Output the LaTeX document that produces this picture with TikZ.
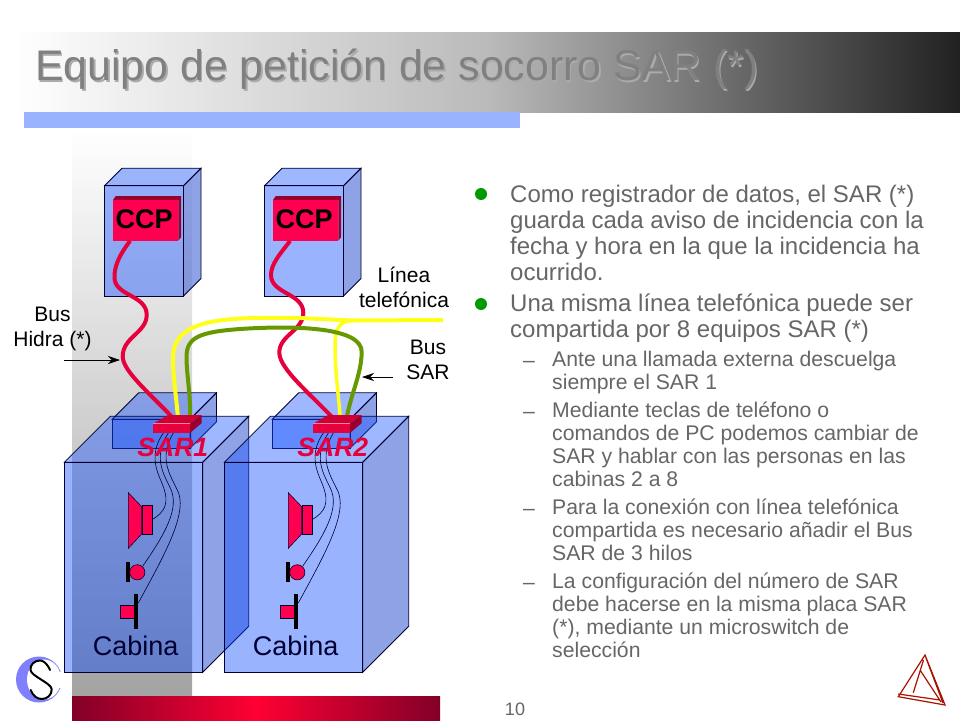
\documentclass[tikz,border=0pt]{standalone}
\usepackage{fontspec}
\setmainfont{Liberation Sans}
\usetikzlibrary{arrows.meta}
\definecolor{barblue}{HTML}{99B3FF}
\definecolor{faceblue}{HTML}{0241FF}
\definecolor{topblue}{HTML}{114DFF}
\definecolor{sideblue}{HTML}{1F47CD}
\definecolor{edgeblue}{HTML}{000033}
\definecolor{devred}{HTML}{FF0050}
\definecolor{barred}{HTML}{FF0033}
\definecolor{darkred}{HTML}{99002E}
\definecolor{toprred}{HTML}{CC0033}
\definecolor{wirered}{HTML}{E6003C}
\definecolor{wiregreen}{HTML}{669900}
\definecolor{wireyellow}{HTML}{FFFF19}
\definecolor{bodygray}{HTML}{666666}
\definecolor{bulletgreen}{HTML}{009900}
\tikzset{
	frontface/.style={draw=edgeblue,line width=.8pt,fill=faceblue,fill opacity=.4},
	topface/.style={draw=edgeblue,line width=.8pt,fill=topblue,fill opacity=.4},
	sideface/.style={draw=edgeblue,line width=.8pt,fill=sideblue,fill opacity=.5},
	ccpbox/.style={fill=devred,inner sep=0,minimum width=65.3pt,minimum height=40.7pt,font=\fontsize{27}{27}\selectfont\bfseries},
	sarbox/.style={fill=wirered,inner sep=0,minimum width=36.7pt,minimum height=8.7pt},
	redwire/.style={draw=wirered,line width=4pt},
	yellowwire/.style={draw=wireyellow,line width=4pt},
	greenwire/.style={draw=wiregreen,line width=4pt},
	thinwire/.style={draw=edgeblue,line width=.6pt},
	smalllabel/.style={align=center,inner sep=0,font=\fontsize{21}{25}\selectfont},
	itemtext/.style={anchor=north west,align=left,inner sep=0,text=bodygray,execute at begin node=\strut,font=\fontsize{24}{26}\selectfont},
	subtext/.style={anchor=north west,align=left,inner sep=0,text=bodygray,execute at begin node=\strut,font=\fontsize{21.2}{23}\selectfont},
	bullet/.style={circle,fill=bulletgreen,inner sep=0,minimum size=12pt},
}
\newcommand\BoxPrism[5]{
	\draw[topface] (#1,#2)--({#1+#5},{#2-#5})--({#1+#3+#5},{#2-#5})--({#1+#3},#2)--cycle;
	\draw[sideface] ({#1+#3},#2)--({#1+#3+#5},{#2-#5})--({#1+#3+#5},{#2+#4-#5})--({#1+#3},{#2+#4})--cycle;
	\draw[frontface] (#1,#2) rectangle ({#1+#3},{#2+#4});
}
\newcommand\CcpUnit[3]{
	\BoxPrism{#1}{185.7}{79}{110.3}{17.5}
	\begin{scope}[xshift=#1pt]
	\fill[darkred] (8.5,200)--(11.2,196)--(76.5,196)--(76.5,237.3)--(73.8,240.7)--(73.8,200)--cycle;
	\node[ccpbox] (#2) at (41.15,220.3) {\raisebox{3pt}{#3}\kern3pt};
	\end{scope}
}
\newcommand\CabinaUnit[2]{
	\BoxPrism{#1+47.9}{419.3}{77.7}{29}{26.5}
	\BoxPrism{#1}{462.3}{138.4}{210}{46}
	\begin{scope}[xshift=#1pt]
	\draw[edgeblue,fill=devred,line width=.6pt] (64,492.7)--(77.4,506.7)--(77.4,534)--(64,548.3)--cycle;
	\draw[edgeblue,fill=devred,line width=.6pt] (78,505.3) rectangle (88.4,534.3);
	\fill[black] (62,561.7) rectangle (65.4,581.7);
	\draw[edgeblue,fill=devred,line width=.6pt] (73,572.3) circle (7.6);
	\draw[edgeblue,fill=devred,line width=.6pt] (56,605.7) rectangle (70.7,618.7);
	\fill[black] (69.7,594) rectangle (73.7,629.3);
	\node[font=\fontsize{27}{27}\selectfont,text=edgeblue,inner sep=0] (#2) at (71.3,646) {Cabina};
	\end{scope}
}
\newcommand\SarUnit[3]{
	\begin{scope}[xshift=#1pt]
	\draw[thinwire] (99,433) .. controls (84,455) and (93,472) .. (98,484) .. controls (106,504) and (100,512) .. (88.4,519.3);
	\draw[thinwire] (104,433) .. controls (88,458) and (100,475) .. (106,488) .. controls (116,508) and (100,535) .. (78.5,566);
	\draw[thinwire] (109,433) .. controls (94,458) and (106,475) .. (112,488) .. controls (126,510) and (100,555) .. (74,603);
	\node[font=\fontsize{26.5}{27}\selectfont\bfseries\itshape,text=wirered,inner sep=0] (#3) at (108.5,447) {#2};
	\end{scope}
}
\begin{document}
\begin{tikzpicture}[x=1pt,y=-1pt]
\useasboundingbox (0,0) rectangle (960,720);
\fill[white] (0,0) rectangle (960,720);
\shade[left color=white,right color=black!87,middle color=black!27] (15,32) rectangle (960,112);
\shade[top color=white,bottom color=black!36] (72,128) rectangle (192,696);
\fill[barblue] (24,112) rectangle (520,128);
\shade[left color=darkred!85!black,right color=darkred!85!black,middle color=barred] (72,696) rectangle (440,720);
\node[anchor=west,inner sep=0,text=black!33,font=\fontsize{42.8}{43}\selectfont] (titleshadow) at (36.5,71) {Equipo de petición de socorro SAR (*)};
\node[anchor=west,inner sep=0,text=black!50,font=\fontsize{42.8}{43}\selectfont] (title) at (35,69.5) {Equipo de petición de socorro SAR (*)};
\CcpUnit{104.5}{ccp1}{CCP}
\CcpUnit{264.5}{ccp2}{CCP}
\CabinaUnit{64.3}{cab1}
\CabinaUnit{224.3}{cab2}
\SarUnit{64.3}{SAR1}{lab1}
\SarUnit{224.3}{SAR2}{lab2}
\node[sarbox] (sar1) at (171.6,428.3) {};
\node[sarbox] (sar2) at (331.6,428.3) {};
\coordinate (linea) at (443,320);
\coordinate (tap) at (352,320.5);
\coordinate (hidra) at (64,360);
\coordinate (hidraend) at (120,360);
\coordinate (bussar) at (393,377);
\coordinate (bussarend) at (362,377);
\draw[redwire] (ccp1.-127) .. controls (120,254) and (114,266) .. (114.5,278) .. controls (115,296) and (147,295) .. (146.7,315) .. controls (146.5,333) and (122.5,337) .. (122.7,356.7) .. controls (123,372) and (152,395) .. (sar1.34);
\draw[redwire] (ccp2.-127) .. controls (280,254) and (271,264) .. (271,275) .. controls (271,294) and (303.5,293) .. (303.3,313) .. controls (303,331) and (279,335) .. (279.3,353) .. controls (280,370) and (312,395) .. (sar2.34);
\draw[yellowwire] (linea)--(tap)--(300,318) .. controls (240,318) and (173,314) .. (173,357) .. controls (173,380) and (177,400) .. (sar1.34);
\draw[yellowwire,line width=3.5pt] (tap) .. controls (340,321) and (335,328) .. (335,345) .. controls (335,375) and (339,395) .. (sar2.27);
\draw[greenwire] (sar1.north east) .. controls (191,395) and (186.5,375) .. (186.5,357) .. controls (186.5,337) and (200,332) .. (240,329) .. controls (300,325) and (362,328) .. (361.7,352) .. controls (361.5,375) and (350,395) .. (sar2.18);
\fill[toprred] (sar1.north west)--(168.3,415)--(201.7,415)--(sar1.north east)--cycle;
\fill[toprred] (sar2.north west)--(328.3,415)--(361.7,415)--(sar2.north east)--cycle;
\fill[darkred] (sar1.north east)--(201.7,415)--(201.7,423)--(sar1.south east)--cycle;
\fill[darkred] (sar2.north east)--(361.7,415)--(361.7,423)--(sar2.south east)--cycle;
\draw[devred!50!white,line width=.8pt] (sar1.north west)--(sar1.north east);
\draw[devred!50!white,line width=.8pt] (sar2.north west)--(sar2.north east);
\draw[-{Stealth[length=12pt,width=8pt]},line width=.7pt] (hidra)--(hidraend);
\draw[-{Stealth[length=12pt,width=8pt]},line width=.7pt] (bussar)--(bussarend);
\node[smalllabel] (bushidra) at (52.5,329) {Bus\\Hidra (*)};
\node[smalllabel] (lineatel) at (404,287) {Línea\\telefónica};
\node[smalllabel] (bussarlabel) at (428,360) {Bus\\SAR};
\node[bullet] (b1) at (481,194) {};
\node[bullet] (b2) at (481,304) {};
\node[itemtext] (p1) at (510,184.5) {Como registrador de datos, el SAR (*)\\guarda cada aviso de incidencia con la\\fecha y hora en la que la incidencia ha\\ocurrido.};
\node[itemtext] (p2) at (510,294) {Una misma línea telefónica puede ser\\compartida por 8 equipos SAR (*)};
\node[subtext] (d1) at (523,351) {–};
\node[subtext] (s1) at (552,351) {Ante una llamada externa descuelga\\siempre el SAR 1};
\node[subtext] (d2) at (523,402) {–};
\node[subtext] (s2) at (552,402) {Mediante teclas de teléfono o\\comandos de PC podemos cambiar de\\SAR y hablar con las personas en las\\cabinas 2 a 8};
\node[subtext] (d3) at (523,499) {–};
\node[subtext] (s3) at (552,499) {Para la conexión con línea telefónica\\compartida es necesario añadir el Bus\\SAR de 3 hilos};
\node[subtext] (d4) at (523,573) {–};
\node[subtext] (s4) at (552,573) {La configuración del número de SAR\\debe hacerse en la misma placa SAR\\(*), mediante un microswitch de\\selección};
\node[inner sep=0,text=bodygray,font=\fontsize{18}{18}\selectfont] (pagenum) at (515,709) {10};
\fill[blue!50!white] (39,679.5) circle (23);
\fill[white] (44,679.5) ellipse (17 and 20);
\fill[white] (50,672) rectangle (63,688);
\draw[line width=2pt,line cap=round] (50,670) .. controls (47,663) and (43,660.5) .. (40,660.5) .. controls (34,660.5) and (30,665) .. (30.5,670) .. controls (31,676) and (51,683) .. (51.7,689) .. controls (52,695) and (47,699) .. (42,699) .. controls (37,699) and (33,696) .. (30.7,690);
\draw[red!60!black!85!orange,line width=1.2pt] (925,655)--(898.3,696.7)--(945,705)--cycle (923.5,660)--(913.3,692.7) (898.3,694)--(940,700) (926,658)--(943,703) (920,670)--(941,702);
\end{tikzpicture}
\end{document}
